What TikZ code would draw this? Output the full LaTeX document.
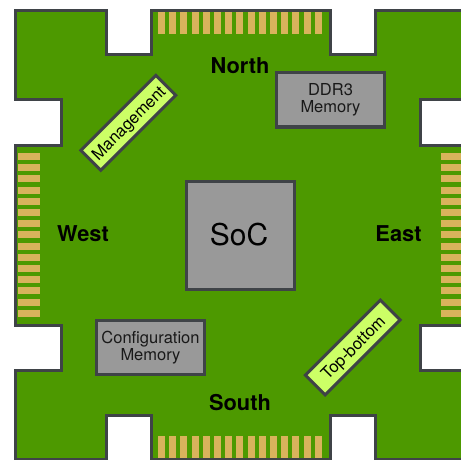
\documentclass[tikz,border=0pt]{standalone}
\usepackage{fontspec}
\setmainfont{TeX Gyre Heros}
\definecolor{pcb}{HTML}{4D9900}
\definecolor{edge}{HTML}{3F4347}
\definecolor{gold}{HTML}{D9B35C}
\definecolor{chip}{HTML}{999999}
\definecolor{lime}{HTML}{CCFF66}
\tikzset{
  x=1pt,y=-1pt,
  board/.style={fill=pcb,draw=edge,line width=3pt,line join=miter},
  chipbox/.style={draw=edge,fill=chip,line width=3pt,inner sep=0pt,align=center,text=black!90,font=\fontsize{16.5}{18}\selectfont},
  limebox/.style={draw=edge,fill=lime,line width=3pt,inner sep=0pt,minimum width=106pt,minimum height=28pt,rotate=45,text=black,text depth=0pt,font=\fontsize{16.5}{18}\selectfont},
  side/.style={font=\bfseries\fontsize{21.8}{24}\selectfont,inner sep=0pt},
  finger/.style={fill=gold,draw=none}
}
\begin{document}
\begin{tikzpicture}
\useasboundingbox (0,0) rectangle (461,460);
\clip (0,0) rectangle (461,460);
\fill[white] (0,0) rectangle (461,460);
\draw[board] (15.5,10.5) -- (106,10.5) -- (106,55) -- (151,55) -- (151,10.5) -- (330.5,10.5) -- (330.5,55) -- (375.5,55) -- (375.5,10.5) -- (470,10.5)
  -- (470,100) -- (420.5,100) -- (420.5,145) -- (470,145) -- (470,325) -- (420.5,325) -- (420.5,370) -- (470,370) -- (470,459.5)
  -- (375.5,459.5) -- (375.5,415) -- (330.5,415) -- (330.5,459.5) -- (151,459.5) -- (151,415) -- (106,415) -- (106,459.5) -- (15.5,459.5)
  -- (15.5,370) -- (61,370) -- (61,325) -- (15.5,325) -- (15.5,145) -- (61,145) -- (61,100) -- (15.5,100) -- cycle;
\foreach \i in {0,...,14} {
  \fill[finger] ({158+11.2*\i},12.5) rectangle ++(7,21.5);
  \fill[finger] ({158+11.2*\i},436) rectangle ++(7,21.5);
  \fill[finger] (17.5,{153+11.2*\i}) rectangle ++(22,7);
  \fill[finger] (441,{153+11.2*\i}) rectangle ++(22,7);
}
\node[chipbox,minimum width=108pt,minimum height=108pt,text=black,font=\fontsize{30}{32}\selectfont,text width=105pt,xshift=-1.5pt] (soc) at (242,235) {\hspace*{-3pt}SoC};
\node[chipbox,minimum width=108pt,minimum height=54pt] (ddr) at (330.5,100) {DDR3\\[-1pt]Memory};
\node[chipbox,minimum width=108pt,minimum height=54pt] (cfg) at (150.5,347.5) {Configuration\\[-1pt]Memory};
\node[limebox] (mgmt) at (128.3,122.8) {Management};
\node[limebox] (tb) at (352.8,347.5) {Top-bottom};
\node[side] (north) at (240,66) {North};
\node[side] (south) at (240,403) {South};
\node[side] (west) at (83,234) {West};
\node[side] (east) at (398.5,234) {East};
\end{tikzpicture}
\end{document}
